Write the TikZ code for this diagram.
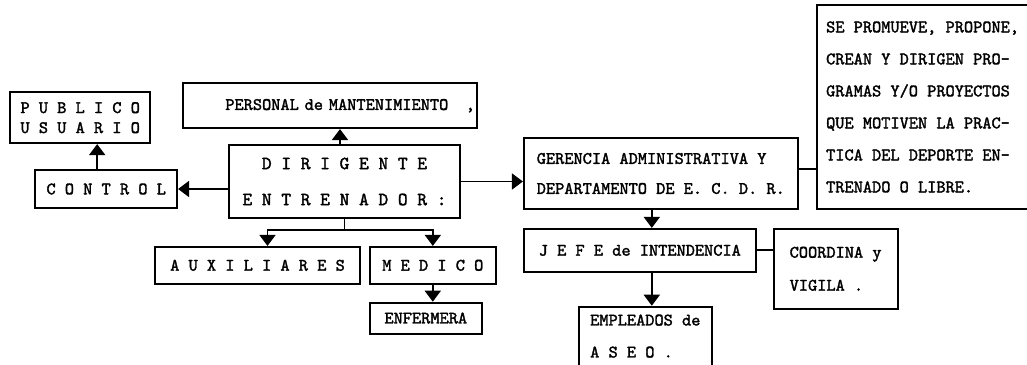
\documentclass[tikz,border=0pt]{standalone}
\usepackage{fontspec}
\newfontfamily\orgtt{lmmono10-regular.otf}[FakeBold=1.8]
\usetikzlibrary{positioning, arrows.meta}
\newcommand{\orgFont}{\fontsize{17.5}{20}\selectfont\orgtt}
\tikzset{
    orgBox/.style={
        rectangle,
        draw,
        line width=1.8pt,
        inner sep=2pt,
        align=center,
        font=\orgFont
    },
    % Text blocks
    orgText/.style={orgBox, align=left},
    % Arrows
    orgArrow/.style={-{Triangle[width=16pt,length=11pt]}, line width=1.8pt},
    orgLink/.style={line width=1.8pt}
}

\begin{document}
\begin{tikzpicture}[x=1pt, y=-1pt]
    \useasboundingbox (0,0) rectangle (1027,364);
    \node[orgBox, minimum width=231pt, minimum height=73pt, font=\fontsize{18.5}{20}\selectfont\orgtt] (dir) at (344.5,181.5) {D I R I G E N T E\\[16pt]E N T R E N A D O R :};
    \node[orgBox, above=15pt of dir, xshift=-14.5pt, text width=290pt, align=right, minimum height=45pt] (pers) {PERSONAL de MANTENIMIENTO~~~,};
    \node[orgBox, left=50pt of dir, yshift=-7.5pt, minimum width=142pt, minimum height=38pt] (ctrl) {C O N T R O L};
    \node[orgBox, above=25pt of ctrl, xshift=-26pt, minimum width=140pt, minimum height=51pt] (pub) {P U B L I C O\\U S U A R I O};
    \node[orgBox, below=27pt of dir, xshift=-87pt, minimum width=205pt, minimum height=37pt] (aux) {A U X I L I A R E S};
    \node[orgBox, right=8pt of aux, minimum width=126pt, minimum height=37pt] (med) {M E D I C O};
    \node[orgBox, below=17pt of med.south west, anchor=north west, minimum width=112pt, minimum height=31pt] (enf) {ENFERMERA};
    \node[orgText, right=62pt of dir, yshift=8pt, minimum width=274pt, minimum height=71pt] (ger) {GERENCIA ADMINISTRATIVA Y\\[10pt]DEPARTAMENTO DE E. C. D. R.};
    \node[orgText, right=17pt of ger.south east, anchor=south west, minimum width=212pt, minimum height=204pt] (prog) {SE PROMUEVE, PROPONE,\\[12pt]CREAN Y DIRIGEN PRO-\\[12pt]GRAMAS Y/O PROYECTOS\\[12pt]QUE MOTIVEN LA PRAC-\\[12pt]TICA DEL DEPORTE EN-\\[12pt]TRENADO O LIBRE.};
    \node[orgBox, below=18pt of ger.south west, anchor=north west, minimum width=232pt, minimum height=43pt] (jefe) {J E F E de INTENDENCIA};
    \node[orgText, right=16pt of jefe.north east, anchor=north west, minimum width=124pt, minimum height=80pt] (coord) {COORDINA y\\[13pt]VIGILA .};
    \node[orgText, below=33pt of jefe, xshift=5.5pt, minimum width=133pt, minimum height=59pt] (emp) {EMPLEADOS de\\[12pt]A S E O .};
    \draw[orgArrow] (dir.west |- ctrl.east) -- (ctrl.east);
    \draw[orgArrow] ([xshift=-9pt]ctrl.north) -- ([xshift=-9pt]ctrl.north |- pub.south);
    \draw[orgArrow] ([xshift=-4.5pt]dir.north) -- ([xshift=-4.5pt]dir.north |- pers.south);
    \draw[orgArrow] (dir.east) -- (dir.east -| ger.west);
    \draw[orgLink] ([yshift=4.5pt]ger.east) -- ([yshift=4.5pt]ger.east -| prog.west);
    \coordinate (fork) at ([yshift=-11pt]dir.south);
    \draw[orgLink] (dir.south) -- (fork);
    \draw[orgArrow] (fork) -| ([xshift=10pt]aux.north);
    \draw[orgArrow] (fork) -| (med.north);
    \draw[orgArrow] (med.south) -- (med.south |- enf.north);
    \draw[orgArrow] ([xshift=-9pt]ger.south) -- ([xshift=-9pt]ger.south |- jefe.north);
    \draw[orgArrow] ([xshift=12pt]jefe.south) -- ([xshift=12pt]jefe.south |- emp.north);
    \draw[orgLink] (jefe.east) -- (jefe.east -| coord.west);
\end{tikzpicture}
\end{document}
